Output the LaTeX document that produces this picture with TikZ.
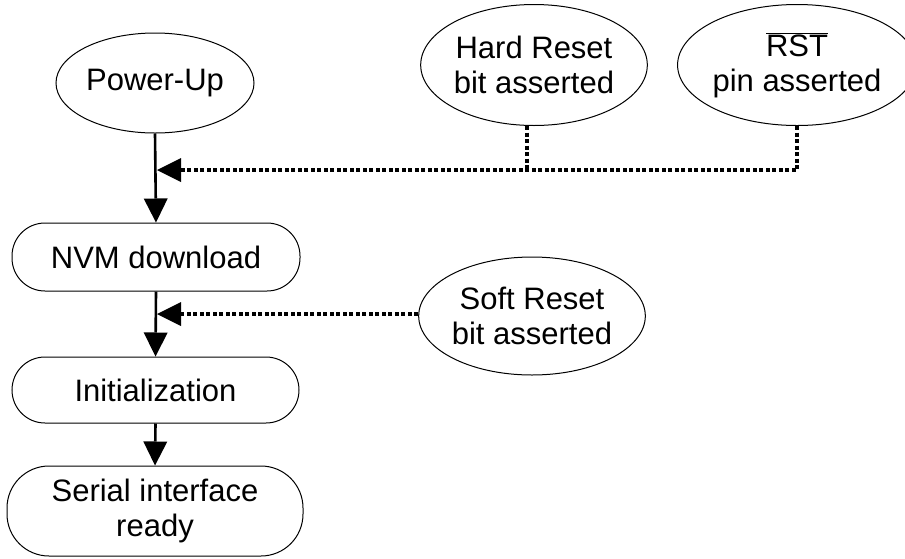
\documentclass[tikz,border=0pt]{standalone}
\usepackage{fontspec}
\setmainfont{Liberation Sans}
\usetikzlibrary{shapes.geometric,arrows.meta}
\begin{document}
\begin{tikzpicture}[x=1pt,y=-1pt,
  every node/.style={font=\fontsize{31}{35}\selectfont, align=center, inner sep=0pt},
  oval/.style={draw, ellipse, line width=1pt},
  pill/.style={draw, rectangle, line width=1pt, rounded corners=33pt},
  flow/.style={line width=2.6pt, -{Triangle[length=24pt,width=24pt,line width=0pt]}},
  trig/.style={line width=3.4pt, dash pattern=on 4pt off 2.5pt},
  trigarrow/.style={trig, -{Triangle[length=24pt,width=24pt,line width=0pt]}}
]
\useasboundingbox (0,0) rectangle (905,558);
\node[oval, minimum width=198pt, minimum height=100pt] (pu) at (155,83) {Power-Up};
\node[oval, minimum width=216pt, minimum height=121pt] (hr) at (534,65) {Hard Reset\\bit asserted};
\node[oval, minimum width=222pt, minimum height=121pt] (rst) at (797,65) {$\overline{\mbox{RST}}$\\pin asserted};
\node[pill, minimum width=288pt, minimum height=68pt] (nvm) at (156,257) {NVM download};
\node[oval, minimum width=216pt, minimum height=118pt] (sr) at (532,316) {Soft Reset\\bit asserted};
\node[pill, minimum width=287pt, minimum height=66pt] (init) at (155.5,390) {Initialization};
\node[pill, minimum width=296pt, minimum height=90pt, rounded corners=42pt] (sir) at (155,511) {Serial interface\\ready};
\coordinate (hj) at (157,170);
\coordinate (sj) at (157,314);
\draw[flow] (pu.south) -- (nvm.north);
\draw[flow] (nvm.south) -- (init.north);
\draw[flow] (init.south) -- (sir.north);
\draw[trig] ([xshift=-7pt]hr.south) -- ([xshift=-7pt]hr.south |- hj);
\draw[trigarrow] (rst.south) |- (hj);
\draw[trigarrow] (sr.west |- sj) -- (sj);
\end{tikzpicture}
\end{document}
